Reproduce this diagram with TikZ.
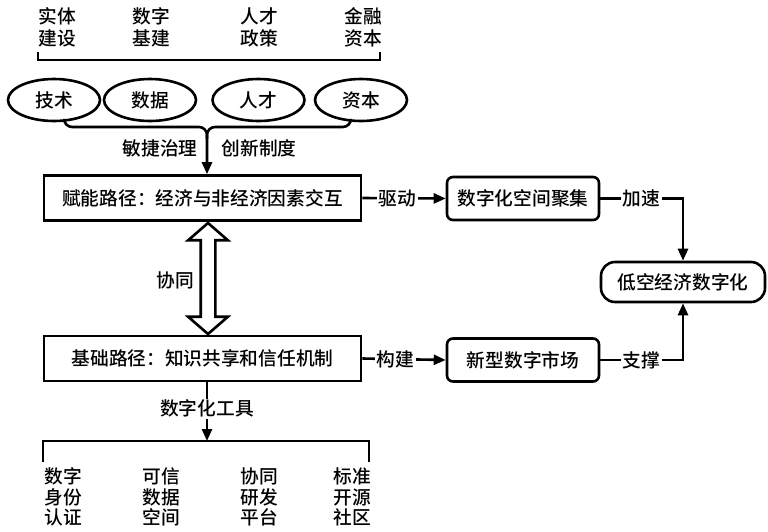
\documentclass[tikz,border=0pt]{standalone}
\usepackage{fontspec}
\setmainfont{Noto Sans CJK SC}[UprightFont={* Medium}]
\usetikzlibrary{arrows.meta,shapes.geometric,shapes.arrows,calc}
\begin{document}
\begin{tikzpicture}[x=1pt,y=-1pt,
  font=\fontsize{18.7}{22}\selectfont,
  every node/.style={inner sep=0pt},
  ln/.style={line width=2.6pt},
  tip/.style={-{Triangle[length=12pt,width=10pt]}},
  lbl/.style={fill=white,inner xsep=2pt,inner ysep=1pt},
  pathbox/.style={draw,line width=2.6pt,minimum width=317pt,minimum height=45pt},
  rbox/.style={draw,line width=2.6pt,rounded corners=6pt,minimum width=152pt,minimum height=43pt},
  ell/.style={draw,ellipse,line width=2.6pt,minimum width=92pt,minimum height=42pt},
  txt/.style={align=center},
  txt3/.style={align=center,font=\fontsize{18.7}{20.5}\selectfont}
]
\useasboundingbox (0,0) rectangle (768,531);

% top texts
\node[txt] (t1) at (57,27) {实体\\建设};
\node[txt] (t2) at (151,27) {数字\\基建};
\node[txt] (t3) at (259,27) {人才\\政策};
\node[txt] (t4) at (363,27) {金融\\资本};
\coordinate (tbl) at (38,60);
\coordinate (tbr) at (380,60);
\draw[ln] ($(tbl)+(0,-8)$) -- (tbl) -- (tbr) -- ($(tbr)+(0,-8)$);

% ellipses
\node[ell] (e1) at (54,100) {技术};
\node[ell] (e2) at (150,100) {数据};
\node[ell] (e3) at (258.5,100) {人才};
\node[ell] (e4) at (361,100) {资本};

\coordinate (ax) at (207,0);
\coordinate (m) at (207,127);

% boxes
\node[pathbox] (b1) at (202.5,198) {赋能路径：经济与非经济因素交互};
\node[pathbox] (b2) at (202.5,358.5) {基础路径：知识共享和信任机制};
\node[rbox] (b3) at (523,198.5) {数字化空间聚集};
\node[rbox] (b4) at (523,360) {新型数字市场};
\node[draw,line width=2.6pt,rounded corners=14pt,minimum width=164pt,minimum height=40pt] (b5) at (683,282) {低空经济数字化};

% merge into b1
\draw[ln,rounded corners=8pt,tip] (e1.-65) |- (m) -- (m |- b1.north);
\draw[ln,rounded corners=8pt] (e4.-115) |- (m) -- ($(m)+(0,12)$);
\node (g1) at (160,148) {敏捷治理};
\node (g2) at (259,148) {创新制度};

% double arrow
\node[draw,line width=2.6pt,double arrow,rotate=90,minimum height=111pt,
      inner ysep=6pt,inner xsep=0pt,double arrow head extend=12.5pt,
      double arrow tip angle=98] (da) at (208,278.5) {};
\node (xt) at (175,280) {协同};

% right connectors
\draw[ln,tip] (b1.east) -- node[lbl,pos=0.42] {驱动} (b3.west);
\draw[ln,tip] (b2.east) -- node[lbl,pos=0.4] {构建} (b4.west);
\draw[ln,tip] (b3.east) -| node[lbl,pos=0.25] {加速} (b5.north);
\draw[ln,tip] (b4.east) -| node[lbl,pos=0.25] {支撑} (b5.south);

% bottom
\coordinate (bk) at (207,441);
\coordinate (bbl) at (43,441);
\coordinate (bbr) at (369,441);
\draw[ln,tip] (b2.south -| ax) -- node[lbl,pos=0.45] {数字化工具} (bk);
\draw[ln] ($(bbl)+(0,21)$) -- (bbl) -- (bbr) -- ($(bbr)+(0,21)$);

\node[txt3] (u1) at (63,497) {数字\\身份\\认证};
\node[txt3] (u2) at (161,497) {可信\\数据\\空间};
\node[txt3] (u3) at (259,497) {协同\\研发\\平台};
\node[txt3] (u4) at (352,497) {标准\\开源\\社区};
\end{tikzpicture}
\end{document}
